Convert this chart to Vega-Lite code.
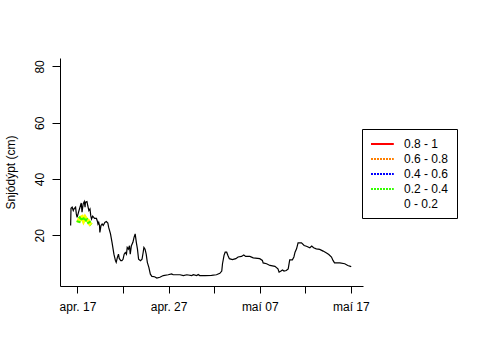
{
  "$schema": "https://vega.github.io/schema/vega-lite/v6.json",
  "width": 303,
  "height": 228,
  "autosize": {"type": "none"},
  "padding": {"left": 60, "top": 58, "right": 117, "bottom": 74},
  "background": "white",
  "config": {
    "view": {"stroke": null},
    "font": "Liberation Sans",
    "axis": {
      "grid": false,
      "domainColor": "black",
      "tickColor": "black",
      "labelColor": "black",
      "titleColor": "black",
      "labelFontSize": 12,
      "titleFontSize": 12,
      "titleFontWeight": "normal",
      "tickSize": 7,
      "labelFont": "Liberation Sans",
      "titleFont": "Liberation Sans"
    },
    "legend": {"labelFont": "Liberation Sans"}
  },
  "datasets": {
    "snjor": [
      {"timi": "2013-04-16T06:00:00Z", "snjodypt": 23.5},
      {"timi": "2013-04-16T07:00:00Z", "snjodypt": 29.6},
      {"timi": "2013-04-16T10:00:00Z", "snjodypt": 30.0},
      {"timi": "2013-04-16T13:00:00Z", "snjodypt": 28.8},
      {"timi": "2013-04-16T15:00:00Z", "snjodypt": 29.4},
      {"timi": "2013-04-16T19:00:00Z", "snjodypt": 30.0},
      {"timi": "2013-04-16T21:00:00Z", "snjodypt": 27.6},
      {"timi": "2013-04-16T23:00:00Z", "snjodypt": 26.4},
      {"timi": "2013-04-17T04:00:00Z", "snjodypt": 28.8},
      {"timi": "2013-04-17T08:00:00Z", "snjodypt": 30.6},
      {"timi": "2013-04-17T10:00:00Z", "snjodypt": 31.5},
      {"timi": "2013-04-17T12:00:00Z", "snjodypt": 28.2},
      {"timi": "2013-04-17T15:00:00Z", "snjodypt": 31.2},
      {"timi": "2013-04-17T18:00:00Z", "snjodypt": 32.0},
      {"timi": "2013-04-17T20:00:00Z", "snjodypt": 30.0},
      {"timi": "2013-04-17T21:00:00Z", "snjodypt": 31.8},
      {"timi": "2013-04-18T01:00:00Z", "snjodypt": 32.0},
      {"timi": "2013-04-18T03:00:00Z", "snjodypt": 30.6},
      {"timi": "2013-04-18T06:00:00Z", "snjodypt": 28.8},
      {"timi": "2013-04-18T09:00:00Z", "snjodypt": 29.4},
      {"timi": "2013-04-18T11:00:00Z", "snjodypt": 27.0},
      {"timi": "2013-04-18T13:00:00Z", "snjodypt": 25.8},
      {"timi": "2013-04-18T16:00:00Z", "snjodypt": 26.8},
      {"timi": "2013-04-18T21:00:00Z", "snjodypt": 26.0},
      {"timi": "2013-04-19T02:00:00Z", "snjodypt": 26.0},
      {"timi": "2013-04-19T04:00:00Z", "snjodypt": 25.2},
      {"timi": "2013-04-19T06:00:00Z", "snjodypt": 24.0},
      {"timi": "2013-04-19T08:00:00Z", "snjodypt": 24.6},
      {"timi": "2013-04-19T10:00:00Z", "snjodypt": 23.5},
      {"timi": "2013-04-19T11:00:00Z", "snjodypt": 21.0},
      {"timi": "2013-04-19T14:00:00Z", "snjodypt": 23.5},
      {"timi": "2013-04-19T17:00:00Z", "snjodypt": 24.0},
      {"timi": "2013-04-19T20:00:00Z", "snjodypt": 23.5},
      {"timi": "2013-04-20T00:00:00Z", "snjodypt": 24.6},
      {"timi": "2013-04-20T04:00:00Z", "snjodypt": 24.9},
      {"timi": "2013-04-20T08:00:00Z", "snjodypt": 24.4},
      {"timi": "2013-04-20T10:00:00Z", "snjodypt": 22.9},
      {"timi": "2013-04-20T15:00:00Z", "snjodypt": 20.5},
      {"timi": "2013-04-20T19:00:00Z", "snjodypt": 17.5},
      {"timi": "2013-04-21T00:00:00Z", "snjodypt": 13.3},
      {"timi": "2013-04-21T04:00:00Z", "snjodypt": 11.0},
      {"timi": "2013-04-21T06:00:00Z", "snjodypt": 10.4},
      {"timi": "2013-04-21T09:00:00Z", "snjodypt": 12.1},
      {"timi": "2013-04-21T12:00:00Z", "snjodypt": 13.3},
      {"timi": "2013-04-21T14:00:00Z", "snjodypt": 11.8},
      {"timi": "2013-04-21T18:00:00Z", "snjodypt": 11.0},
      {"timi": "2013-04-21T21:00:00Z", "snjodypt": 11.0},
      {"timi": "2013-04-22T00:00:00Z", "snjodypt": 11.5},
      {"timi": "2013-04-22T03:00:00Z", "snjodypt": 13.3},
      {"timi": "2013-04-22T06:00:00Z", "snjodypt": 13.9},
      {"timi": "2013-04-22T09:00:00Z", "snjodypt": 13.3},
      {"timi": "2013-04-22T11:00:00Z", "snjodypt": 15.7},
      {"timi": "2013-04-22T14:00:00Z", "snjodypt": 15.1},
      {"timi": "2013-04-22T17:00:00Z", "snjodypt": 16.3},
      {"timi": "2013-04-22T19:00:00Z", "snjodypt": 13.3},
      {"timi": "2013-04-22T22:00:00Z", "snjodypt": 16.3},
      {"timi": "2013-04-23T02:00:00Z", "snjodypt": 17.5},
      {"timi": "2013-04-23T05:00:00Z", "snjodypt": 19.3},
      {"timi": "2013-04-23T08:00:00Z", "snjodypt": 20.5},
      {"timi": "2013-04-23T11:00:00Z", "snjodypt": 17.5},
      {"timi": "2013-04-23T14:00:00Z", "snjodypt": 15.1},
      {"timi": "2013-04-23T17:00:00Z", "snjodypt": 11.5},
      {"timi": "2013-04-23T22:00:00Z", "snjodypt": 11.0},
      {"timi": "2013-04-24T02:00:00Z", "snjodypt": 11.5},
      {"timi": "2013-04-24T05:00:00Z", "snjodypt": 13.9},
      {"timi": "2013-04-24T07:00:00Z", "snjodypt": 15.7},
      {"timi": "2013-04-24T10:00:00Z", "snjodypt": 15.1},
      {"timi": "2013-04-24T13:00:00Z", "snjodypt": 13.3},
      {"timi": "2013-04-24T16:00:00Z", "snjodypt": 10.4},
      {"timi": "2013-04-24T20:00:00Z", "snjodypt": 8.6},
      {"timi": "2013-04-25T00:00:00Z", "snjodypt": 6.2},
      {"timi": "2013-04-25T04:00:00Z", "snjodypt": 5.4},
      {"timi": "2013-04-25T11:00:00Z", "snjodypt": 5.3},
      {"timi": "2013-04-25T17:00:00Z", "snjodypt": 4.8},
      {"timi": "2013-04-26T01:00:00Z", "snjodypt": 5.1},
      {"timi": "2013-04-26T10:00:00Z", "snjodypt": 5.7},
      {"timi": "2013-04-26T23:00:00Z", "snjodypt": 6.0},
      {"timi": "2013-04-27T08:00:00Z", "snjodypt": 6.3},
      {"timi": "2013-04-27T12:00:00Z", "snjodypt": 6.0},
      {"timi": "2013-04-28T06:00:00Z", "snjodypt": 6.0},
      {"timi": "2013-04-28T15:00:00Z", "snjodypt": 5.7},
      {"timi": "2013-04-29T00:00:00Z", "snjodypt": 6.0},
      {"timi": "2013-04-29T13:00:00Z", "snjodypt": 5.7},
      {"timi": "2013-04-29T17:00:00Z", "snjodypt": 6.0},
      {"timi": "2013-04-30T02:00:00Z", "snjodypt": 5.7},
      {"timi": "2013-04-30T06:00:00Z", "snjodypt": 6.1},
      {"timi": "2013-04-30T10:00:00Z", "snjodypt": 5.7},
      {"timi": "2013-05-01T00:00:00Z", "snjodypt": 5.7},
      {"timi": "2013-05-01T17:00:00Z", "snjodypt": 5.8},
      {"timi": "2013-05-02T06:00:00Z", "snjodypt": 6.0},
      {"timi": "2013-05-02T15:00:00Z", "snjodypt": 6.5},
      {"timi": "2013-05-02T20:00:00Z", "snjodypt": 7.3},
      {"timi": "2013-05-02T22:00:00Z", "snjodypt": 9.9},
      {"timi": "2013-05-03T02:00:00Z", "snjodypt": 12.9},
      {"timi": "2013-05-03T05:00:00Z", "snjodypt": 14.0},
      {"timi": "2013-05-03T09:00:00Z", "snjodypt": 14.0},
      {"timi": "2013-05-03T12:00:00Z", "snjodypt": 12.9},
      {"timi": "2013-05-03T16:00:00Z", "snjodypt": 11.7},
      {"timi": "2013-05-04T00:00:00Z", "snjodypt": 11.4},
      {"timi": "2013-05-04T09:00:00Z", "snjodypt": 11.7},
      {"timi": "2013-05-04T15:00:00Z", "snjodypt": 12.3},
      {"timi": "2013-05-05T00:00:00Z", "snjodypt": 12.5},
      {"timi": "2013-05-05T06:00:00Z", "snjodypt": 13.0},
      {"timi": "2013-05-05T11:00:00Z", "snjodypt": 12.5},
      {"timi": "2013-05-05T22:00:00Z", "snjodypt": 12.5},
      {"timi": "2013-05-06T07:00:00Z", "snjodypt": 12.0},
      {"timi": "2013-05-07T00:00:00Z", "snjodypt": 11.7},
      {"timi": "2013-05-07T07:00:00Z", "snjodypt": 11.1},
      {"timi": "2013-05-07T09:00:00Z", "snjodypt": 10.2},
      {"timi": "2013-05-07T18:00:00Z", "snjodypt": 9.9},
      {"timi": "2013-05-08T03:00:00Z", "snjodypt": 9.3},
      {"timi": "2013-05-08T16:00:00Z", "snjodypt": 9.0},
      {"timi": "2013-05-09T00:00:00Z", "snjodypt": 8.1},
      {"timi": "2013-05-09T03:00:00Z", "snjodypt": 6.9},
      {"timi": "2013-05-09T08:00:00Z", "snjodypt": 7.3},
      {"timi": "2013-05-09T12:00:00Z", "snjodypt": 7.7},
      {"timi": "2013-05-09T16:00:00Z", "snjodypt": 7.3},
      {"timi": "2013-05-09T22:00:00Z", "snjodypt": 7.5},
      {"timi": "2013-05-10T03:00:00Z", "snjodypt": 8.1},
      {"timi": "2013-05-10T07:00:00Z", "snjodypt": 11.3},
      {"timi": "2013-05-10T14:00:00Z", "snjodypt": 11.3},
      {"timi": "2013-05-10T18:00:00Z", "snjodypt": 12.3},
      {"timi": "2013-05-10T21:00:00Z", "snjodypt": 14.0},
      {"timi": "2013-05-11T01:00:00Z", "snjodypt": 15.2},
      {"timi": "2013-05-11T05:00:00Z", "snjodypt": 17.3},
      {"timi": "2013-05-11T14:00:00Z", "snjodypt": 17.3},
      {"timi": "2013-05-11T21:00:00Z", "snjodypt": 16.4},
      {"timi": "2013-05-12T03:00:00Z", "snjodypt": 16.1},
      {"timi": "2013-05-12T12:00:00Z", "snjodypt": 15.6},
      {"timi": "2013-05-12T17:00:00Z", "snjodypt": 16.2},
      {"timi": "2013-05-12T22:00:00Z", "snjodypt": 15.6},
      {"timi": "2013-05-13T05:00:00Z", "snjodypt": 15.2},
      {"timi": "2013-05-13T14:00:00Z", "snjodypt": 15.0},
      {"timi": "2013-05-13T23:00:00Z", "snjodypt": 14.4},
      {"timi": "2013-05-14T08:00:00Z", "snjodypt": 13.7},
      {"timi": "2013-05-14T14:00:00Z", "snjodypt": 13.2},
      {"timi": "2013-05-14T21:00:00Z", "snjodypt": 12.3},
      {"timi": "2013-05-15T01:00:00Z", "snjodypt": 11.1},
      {"timi": "2013-05-15T05:00:00Z", "snjodypt": 10.2},
      {"timi": "2013-05-15T19:00:00Z", "snjodypt": 10.2},
      {"timi": "2013-05-16T08:00:00Z", "snjodypt": 9.9},
      {"timi": "2013-05-16T16:00:00Z", "snjodypt": 9.3},
      {"timi": "2013-05-17T01:00:00Z", "snjodypt": 8.9}
    ],
    "likur": [
      {"timi": "2013-04-17T02:00:00Z", "snjodypt": 24.5, "klasi": "0.2 - 0.4"},
      {"timi": "2013-04-17T05:00:00Z", "snjodypt": 25.8, "klasi": "0.2 - 0.4"},
      {"timi": "2013-04-17T08:00:00Z", "snjodypt": 26.2, "klasi": "0.2 - 0.4"},
      {"timi": "2013-04-17T12:00:00Z", "snjodypt": 26.5, "klasi": "0.2 - 0.4"},
      {"timi": "2013-04-17T16:00:00Z", "snjodypt": 25.2, "klasi": "0.2 - 0.4"},
      {"timi": "2013-04-17T20:00:00Z", "snjodypt": 26.3, "klasi": "0.2 - 0.4"},
      {"timi": "2013-04-18T00:00:00Z", "snjodypt": 25.5, "klasi": "0.2 - 0.4"},
      {"timi": "2013-04-18T04:00:00Z", "snjodypt": 25.2, "klasi": "0.2 - 0.4"},
      {"timi": "2013-04-18T08:00:00Z", "snjodypt": 24.2, "klasi": "0.2 - 0.4"},
      {"timi": "2013-04-18T12:00:00Z", "snjodypt": 23.7, "klasi": "0.2 - 0.4"}
    ]
  },
  "encoding": {
    "x": {
      "field": "timi",
      "type": "temporal",
      "title": null,
      "scale": {
        "type": "utc",
        "domain": [
          {"year": 2013, "month": 4, "date": 15, "hours": 2, "utc": true},
          {"year": 2013, "month": 5, "date": 18, "hours": 8, "utc": true}
        ]
      },
      "axis": {
        "values": [
          {"year": 2013, "month": 4, "date": 17, "utc": true},
          {"year": 2013, "month": 4, "date": 22, "utc": true},
          {"year": 2013, "month": 4, "date": 27, "utc": true},
          {"year": 2013, "month": 5, "date": 2, "utc": true},
          {"year": 2013, "month": 5, "date": 7, "utc": true},
          {"year": 2013, "month": 5, "date": 12, "utc": true},
          {"year": 2013, "month": 5, "date": 17, "utc": true}
        ],
        "labelExpr": "utcdate(datum.value) % 10 == 7 ? (utcmonth(datum.value) == 3 ? 'apr. ' : 'maí ') + utcFormat(datum.value, '%d') : ''",
        "labelPadding": 8,
        "labelFlush": false,
        "labelOverlap": false
      }
    },
    "y": {
      "field": "snjodypt",
      "type": "quantitative",
      "title": "Snjódýpt (cm)",
      "scale": {"domain": [2, 83], "nice": false, "zero": false},
      "axis": {
        "values": [20, 40, 60, 80],
        "labelAngle": 270,
        "labelAlign": "center",
        "labelBaseline": "bottom",
        "labelPadding": 6,
        "titlePadding": 16,
        "tickSize": 8
      }
    }
  },
  "layer": [
    {
      "data": {"name": "snjor"},
      "mark": {"type": "line", "strokeWidth": 1.2, "color": "black"},
      "encoding": {}
    },
    {
      "data": {"name": "likur"},
      "mark": {"type": "line", "strokeWidth": 4, "color": "#ffff00"},
      "encoding": {}
    },
    {
      "data": {"name": "likur"},
      "mark": {"type": "line", "strokeWidth": 4, "strokeDash": [2, 2]},
      "encoding": {
        "color": {
          "field": "klasi",
          "type": "nominal",
          "scale": {
            "domain": ["0.8 - 1", "0.6 - 0.8", "0.4 - 0.6", "0.2 - 0.4", "0 - 0.2"],
            "range": ["#ff0000", "#ff7f00", "#0000ff", "#33ff00", "#ffffff"]
          },
          "legend": {
            "title": null,
            "orient": "none",
            "legendX": 302,
            "legendY": 71,
            "strokeColor": "black",
            "fillColor": "white",
            "padding": 8,
            "symbolType": "M-1,0L2.8,0",
            "symbolSize": 144,
            "symbolStrokeWidth": 2,
            "symbolFillColor": null,
            "labelFontSize": 12,
            "labelColor": "black",
            "labelOffset": 20,
            "rowPadding": 2,
            "encode": {
              "symbols": {
                "update": {
                  "strokeDash": {"signal": "datum.label == '0.8 - 1' ? [1, 0] : [2, 1]"}
                }
              }
            }
          }
        }
      }
    }
  ]
}
